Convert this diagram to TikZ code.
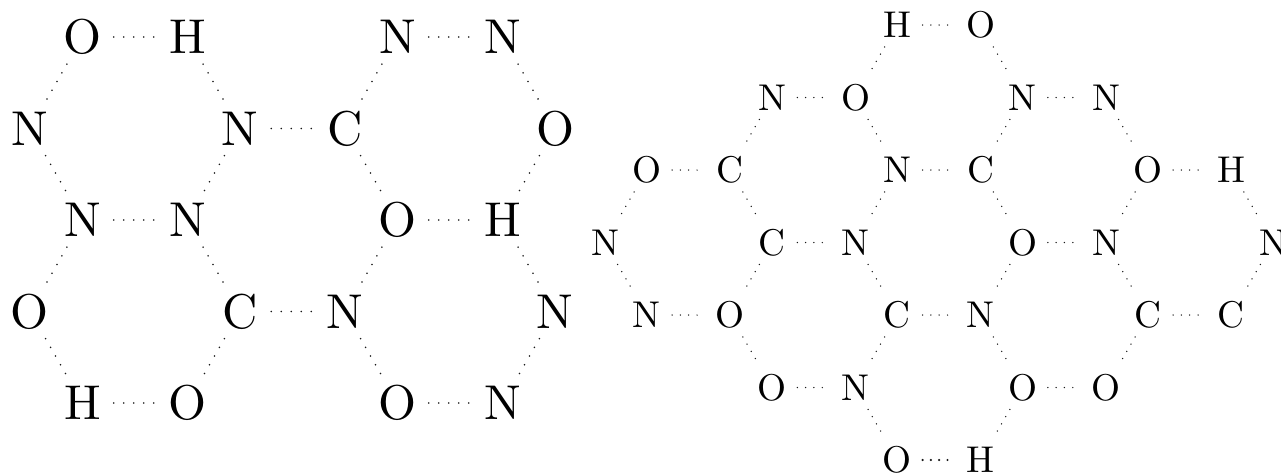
\documentclass[tikz,border=0pt]{standalone}
\usepackage{tikz}

\font\latomfont="[lmroman10-regular]" at 27.8pt
\font\ratomfont="[lmroman10-regular]" at 21.2pt

\begin{document}
\begin{tikzpicture}[
  atom/.style ={circle, inner sep=0pt, minimum size=1.24cm, font=\latomfont},
  satom/.style={atom, minimum size=1cm, font=\ratomfont},
  bond/.style ={draw=black!90, line width=1pt, line cap=round,
                dash pattern=on 0pt off 0.2cm},
  sbond/.style={bond, line width=0.85pt, dash pattern=on 0pt off 0.166cm}
]
\useasboundingbox (0,0) rectangle (25.62,-9.46);

% Left lattice
\node[atom] (l11) at (1.65,-0.74)  {O};
\node[atom] (l12) at (3.75,-0.74)  {H};
\node[atom] (l13) at (7.95,-0.74)  {N};
\node[atom] (l14) at (10.05,-0.74) {N};

\node[atom] (l21) at (0.6,-2.57)   {N};
\node[atom] (l22) at (4.8,-2.57)   {N};
\node[atom] (l23) at (6.9,-2.57)   {C};
\node[atom] (l24) at (11.1,-2.57)  {O};

\node[atom] (l31) at (1.65,-4.40)  {N};
\node[atom] (l32) at (3.75,-4.40)  {N};
\node[atom] (l33) at (7.95,-4.40)  {O};
\node[atom] (l34) at (10.05,-4.40) {H};

\node[atom] (l41) at (0.6,-6.23)   {O};
\node[atom] (l42) at (4.8,-6.23)   {C};
\node[atom] (l43) at (6.9,-6.23)   {N};
\node[atom] (l44) at (11.1,-6.23)  {N};

\node[atom] (l51) at (1.65,-8.06)  {H};
\node[atom] (l52) at (3.75,-8.06)  {O};
\node[atom] (l53) at (7.95,-8.06)  {O};
\node[atom] (l54) at (10.05,-8.06) {N};

% Left bonds
\draw[bond] (l11) -- (l12);  \draw[bond] (l13) -- (l14);
\draw[bond] (l11) -- (l21);  \draw[bond] (l12) -- (l22);
\draw[bond] (l13) -- (l23);  \draw[bond] (l14) -- (l24);
\draw[bond] (l22) -- (l23);
\draw[bond] (l21) -- (l31);  \draw[bond] (l22) -- (l32);
\draw[bond] (l23) -- (l33);  \draw[bond] (l24) -- (l34);
\draw[bond] (l31) -- (l32);  \draw[bond] (l33) -- (l34);
\draw[bond] (l31) -- (l41);  \draw[bond] (l32) -- (l42);
\draw[bond] (l33) -- (l43);  \draw[bond] (l34) -- (l44);
\draw[bond] (l42) -- (l43);
\draw[bond] (l41) -- (l51);  \draw[bond] (l42) -- (l52);
\draw[bond] (l43) -- (l53);  \draw[bond] (l44) -- (l54);
\draw[bond] (l51) -- (l52);  \draw[bond] (l53) -- (l54);

% Right lattice
\node[satom] (r01) at (17.945,-0.50) {H};
\node[satom] (r02) at (19.615,-0.50) {O};

\node[satom] (r11) at (15.44,-1.95)  {N};
\node[satom] (r12) at (17.11,-1.95)  {O};
\node[satom] (r13) at (20.45,-1.95)  {N};
\node[satom] (r14) at (22.12,-1.95)  {N};

\node[satom] (r21) at (12.935,-3.40) {O};
\node[satom] (r22) at (14.605,-3.40) {C};
\node[satom] (r23) at (17.945,-3.40) {N};
\node[satom] (r24) at (19.615,-3.40) {C};
\node[satom] (r25) at (22.955,-3.40) {O};
\node[satom] (r26) at (24.625,-3.40) {H};

\node[satom] (r31) at (12.10,-4.85)  {N};
\node[satom] (r32) at (15.44,-4.85)  {C};
\node[satom] (r33) at (17.11,-4.85)  {N};
\node[satom] (r34) at (20.45,-4.85)  {O};
\node[satom] (r35) at (22.12,-4.85)  {N};
\node[satom] (r36) at (25.46,-4.85)  {N};

\node[satom] (r41) at (12.935,-6.30) {N};
\node[satom] (r42) at (14.605,-6.30) {O};
\node[satom] (r43) at (17.945,-6.30) {C};
\node[satom] (r44) at (19.615,-6.30) {N};
\node[satom] (r45) at (22.955,-6.30) {C};
\node[satom] (r46) at (24.625,-6.30) {C};

\node[satom] (r51) at (15.44,-7.75)  {O};
\node[satom] (r52) at (17.11,-7.75)  {N};
\node[satom] (r53) at (20.45,-7.75)  {O};
\node[satom] (r54) at (22.12,-7.75)  {O};

\node[satom] (r61) at (17.945,-9.20) {O};
\node[satom] (r62) at (19.615,-9.20) {H};

% Right bonds
\draw[sbond] (r01) -- (r02);
\draw[sbond] (r01) -- (r12);  \draw[sbond] (r02) -- (r13);
\draw[sbond] (r11) -- (r12);  \draw[sbond] (r13) -- (r14);
\draw[sbond] (r11) -- (r22);  \draw[sbond] (r12) -- (r23);
\draw[sbond] (r13) -- (r24);  \draw[sbond] (r14) -- (r25);
\draw[sbond] (r21) -- (r22);  \draw[sbond] (r23) -- (r24);
\draw[sbond] (r25) -- (r26);
\draw[sbond] (r21) -- (r31);  \draw[sbond] (r22) -- (r32);
\draw[sbond] (r23) -- (r33);  \draw[sbond] (r24) -- (r34);
\draw[sbond] (r25) -- (r35);  \draw[sbond] (r26) -- (r36);
\draw[sbond] (r32) -- (r33);  \draw[sbond] (r34) -- (r35);
\draw[sbond] (r31) -- (r41);  \draw[sbond] (r32) -- (r42);
\draw[sbond] (r33) -- (r43);  \draw[sbond] (r34) -- (r44);
\draw[sbond] (r35) -- (r45);  \draw[sbond] (r36) -- (r46);
\draw[sbond] (r41) -- (r42);  \draw[sbond] (r43) -- (r44);
\draw[sbond] (r45) -- (r46);
\draw[sbond] (r42) -- (r51);  \draw[sbond] (r43) -- (r52);
\draw[sbond] (r44) -- (r53);  \draw[sbond] (r45) -- (r54);
\draw[sbond] (r51) -- (r52);  \draw[sbond] (r53) -- (r54);
\draw[sbond] (r52) -- (r61);  \draw[sbond] (r53) -- (r62);
\draw[sbond, line width=1.4pt] (r61) -- (r62);

\end{tikzpicture}
\end{document}
